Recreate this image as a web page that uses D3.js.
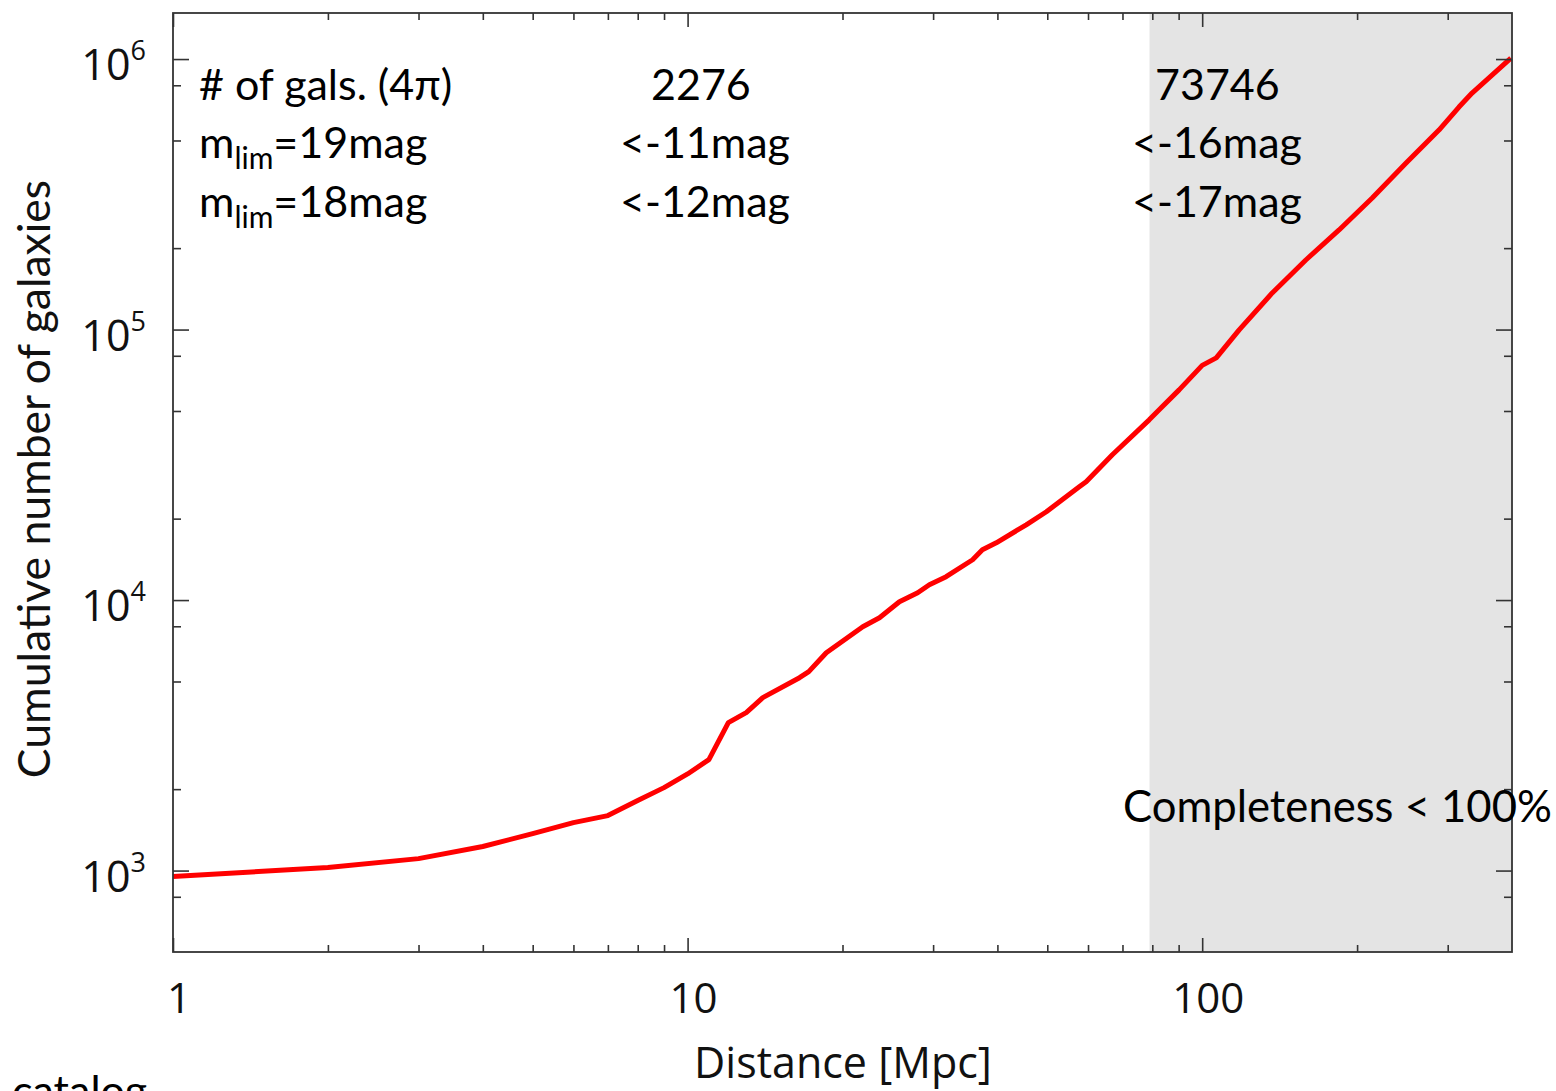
<!DOCTYPE html>
<html>
<head>
<meta charset="utf-8">
<script src="https://cdn.jsdelivr.net/npm/d3@7"></script>
<style>
  html, body { margin: 0; padding: 0; background: #ffffff; }
  svg { display: block; }
</style>
</head>
<body>
<svg id="chart" width="1556" height="1091"></svg>
<script>
// Cumulative galaxy counts versus distance
const distanceMpc = [
  1, 2, 3, 4, 5, 6, 7, 8, 9, 10, 11, 12, 13, 14, 16.5, 17.2, 18.6, 21.9, 23.6,
  25.8, 28, 29.5, 31.8, 35.8, 37.4, 39.8, 45.5, 49.8, 57.7, 59.5, 66.9, 78.9,
  82.5, 90.2, 100, 106.5, 118, 136.8, 159, 184.5, 214, 249, 288.5, 315.5,
  334.5, 398
];
const cumulativeCount = [
  950, 1026, 1107, 1227, 1370, 1504, 1597, 1814, 2026, 2276, 2571, 3523, 3835,
  4358, 5164, 5436, 6388, 7970, 8604, 9858, 10644, 11395, 12200, 14094, 15346,
  16284, 18980, 21210, 26230, 27370, 34440, 46370, 50500, 59850, 73746,
  78600, 99700, 136600, 180800, 233500, 306500, 412800, 546600, 664700, 748800,
  1008600
];

const xMajorTicks = [1, 10, 100];
const xMinorTicks = [2, 3, 4, 5, 6, 7, 8, 9, 20, 30, 40, 50, 60, 70, 80, 90, 200, 300];
const xTickLabels = ["1", "10", "100"];
const yMajorTicks = [1e3, 1e4, 1e5, 1e6];
const yMinorTicks = [800, 2000, 5000, 8000, 2e4, 5e4, 8e4, 2e5, 5e5, 8e5];
const yTickExponents = ["3", "4", "5", "6"];

// distance beyond which the sample is incomplete
const completenessLimitMpc = 79;

// summary table written in the upper part of the plot
const tableRowHeads = [
  { base: "# of gals. (4\u03c0)" },
  { base: "m", sub: "lim", rest: "=19mag" },
  { base: "m", sub: "lim", rest: "=18mag" }
];
const tableColumn10Mpc = ["2276", "<-11mag", "<-12mag"];
const tableColumn100Mpc = ["73746", "<-16mag", "<-17mag"];

const xTitle = "Distance [Mpc]";
const yTitle = "Cumulative number of galaxies";
const shadeNote = "Completeness < 100%";
const footNote = "catalog";

// ---- layout ----
const plot = { left: 173, right: 1512, top: 13, bottom: 952 };
const annoFont = "Lato, 'Open Sans', sans-serif";
const tickFont = "'Open Sans', 'Noto Sans', sans-serif";

const svg = d3.select("#chart");

const x = d3.scaleLog().domain([1, 400]).range([plot.left, plot.right]);
const y = d3.scaleLog().domain([500, 1.48e6]).range([plot.bottom, plot.top]);

// shaded incompleteness region
svg.append("rect")
  .attr("x", x(completenessLimitMpc))
  .attr("y", plot.top)
  .attr("width", plot.right - x(completenessLimitMpc))
  .attr("height", plot.bottom - plot.top)
  .attr("fill", "#e4e4e4");

// cumulative curve
const series = distanceMpc.map((d, i) => [d, cumulativeCount[i]]);
svg.append("path")
  .datum(series)
  .attr("fill", "none")
  .attr("stroke", "#ff0000")
  .attr("stroke-width", 5)
  .attr("stroke-linejoin", "round")
  .attr("d", d3.line().x(d => x(d[0])).y(d => y(d[1])));

// axes with inward ticks on all four sides
const axisColor = "#333";
function styleAxis(g) {
  g.select(".domain").remove();
  g.selectAll(".tick line").attr("stroke", axisColor).attr("stroke-width", 1.6);
  g.selectAll(".tick text").remove();
}
const xMajLen = 14, xMinLen = 7, yMajLen = 16, yMinLen = 8;

svg.append("g").attr("transform", `translate(0,${plot.bottom})`)
  .call(d3.axisBottom(x).tickValues(xMajorTicks).tickSize(-xMajLen)).call(styleAxis);
svg.append("g").attr("transform", `translate(0,${plot.bottom})`)
  .call(d3.axisBottom(x).tickValues(xMinorTicks).tickSize(-xMinLen)).call(styleAxis);
svg.append("g").attr("transform", `translate(0,${plot.top})`)
  .call(d3.axisTop(x).tickValues(xMajorTicks).tickSize(-xMajLen)).call(styleAxis);
svg.append("g").attr("transform", `translate(0,${plot.top})`)
  .call(d3.axisTop(x).tickValues(xMinorTicks).tickSize(-xMinLen)).call(styleAxis);

svg.append("g").attr("transform", `translate(${plot.left},0)`)
  .call(d3.axisLeft(y).tickValues(yMajorTicks).tickSize(-yMajLen)).call(styleAxis);
svg.append("g").attr("transform", `translate(${plot.left},0)`)
  .call(d3.axisLeft(y).tickValues(yMinorTicks).tickSize(-yMinLen)).call(styleAxis);
svg.append("g").attr("transform", `translate(${plot.right},0)`)
  .call(d3.axisRight(y).tickValues(yMajorTicks).tickSize(-yMajLen)).call(styleAxis);
svg.append("g").attr("transform", `translate(${plot.right},0)`)
  .call(d3.axisRight(y).tickValues(yMinorTicks).tickSize(-yMinLen)).call(styleAxis);

// frame
svg.append("rect")
  .attr("x", plot.left).attr("y", plot.top)
  .attr("width", plot.right - plot.left).attr("height", plot.bottom - plot.top)
  .attr("fill", "none").attr("stroke", axisColor).attr("stroke-width", 1.8);

// x tick labels
svg.append("g").selectAll("text")
  .data(xMajorTicks)
  .join("text")
  .attr("x", d => x(d) + 6)
  .attr("y", 1013)
  .attr("text-anchor", "middle")
  .attr("font-family", tickFont)
  .attr("font-size", 42)
  .attr("fill", "#111")
  .text((d, i) => xTickLabels[i]);

// y tick labels as powers of ten
const yLab = svg.append("g").selectAll("text")
  .data(yMajorTicks)
  .join("text")
  .attr("x", 146)
  .attr("y", d => y(d) + 21)
  .attr("text-anchor", "end")
  .attr("font-family", tickFont)
  .attr("fill", "#111");
yLab.append("tspan").attr("font-size", 43).text("10");
yLab.append("tspan").attr("font-size", 27).attr("dy", -20).text((d, i) => yTickExponents[i]);

// axis titles
svg.append("text")
  .attr("x", 843).attr("y", 1078)
  .attr("text-anchor", "middle")
  .attr("font-family", tickFont)
  .attr("font-size", 43)
  .attr("fill", "#111")
  .text(xTitle);

svg.append("text")
  .attr("transform", "translate(50,479) rotate(-90)")
  .attr("text-anchor", "middle")
  .attr("font-family", annoFont)
  .attr("font-size", 44.5)
  .attr("fill", "#111")
  .text(yTitle);

// summary table
const rowBaselines = [100, 158, 217];
const annoSize = 43;
const heads = svg.append("g")
  .attr("font-family", annoFont).attr("font-size", annoSize).attr("fill", "#000");
tableRowHeads.forEach((r, i) => {
  const t = heads.append("text").attr("x", 199).attr("y", rowBaselines[i]);
  t.append("tspan").text(r.base);
  if (r.sub) {
    t.append("tspan").attr("font-size", 30).attr("dy", 11).text(r.sub);
    t.append("tspan").attr("dy", -11).text(r.rest);
  }
});
const col10X = [651, 620, 620];
const col100X = [1155, 1132, 1132];
tableColumn10Mpc.forEach((s, i) => {
  heads.append("text").attr("x", col10X[i]).attr("y", rowBaselines[i]).text(s);
});
tableColumn100Mpc.forEach((s, i) => {
  heads.append("text").attr("x", col100X[i]).attr("y", rowBaselines[i]).text(s);
});

// note on the shaded region
svg.append("text")
  .attr("x", 1123).attr("y", 822)
  .attr("font-family", annoFont).attr("font-size", 43.6).attr("fill", "#000")
  .text(shadeNote);

// footnote partly outside the canvas
svg.append("text")
  .attr("x", 12).attr("y", 1106)
  .attr("font-family", annoFont).attr("font-size", 43).attr("fill", "#000")
  .text(footNote);
</script>
</body>
</html>
